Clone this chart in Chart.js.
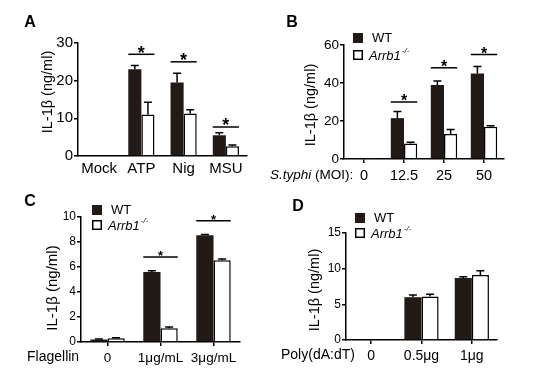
<!DOCTYPE html>
<html>
<head>
<meta charset="utf-8">
<script src="https://cdn.jsdelivr.net/npm/chart.js@4"></script>
<style>
  body { margin: 0; background: #fff; width: 536px; height: 387px; position: relative; overflow: hidden; }
  canvas { position: absolute; }
</style>
</head>
<body>
<canvas id="chartA" width="268" height="190" style="left:0;top:0"></canvas>
<canvas id="chartB" width="268" height="190" style="left:268px;top:0"></canvas>
<canvas id="chartC" width="268" height="197" style="left:0;top:190px"></canvas>
<canvas id="chartD" width="268" height="197" style="left:268px;top:190px"></canvas>
<script>
const FONT = "Arial, 'Liberation Sans', sans-serif";
const DARK = "#221a17";

// Panel A
const catsA = ["Mock", "ATP", "Nig", "MSU"];
const wtA = [0.2, 23, 19.5, 5.5];
const wtErrA = [0, 1, 2.5, 0.7];
const koA = [0.2, 11, 11.3, 2.6];
const koErrA = [0, 3.3, 1, 0.3];
const sigA = [null, 27, 25, 7.7];
const ticksA = [0, 10, 20, 30];

// Panel B
const catsB = ["0", "12.5", "25", "50"];
const wtB = [0.3, 21.5, 39, 45];
const wtErrB = [0, 3.5, 2, 3.7];
const koB = [0.2, 8.2, 13.2, 17];
const koErrB = [0, 0.6, 2.3, 0.5];
const sigB = [null, 30, 48, 55];
const ticksB = [0, 20, 40, 60];

// Panel C
const catsC = ["0", "1μg/mL", "3μg/mL"];
const wtC = [0.2, 5.6, 8.55];
const wtErrC = [0.05, 0.1, 0.05];
const koC = [0.3, 1.1, 6.55];
const koErrC = [0.05, 0.1, 0.1];
const sigC = [null, 6.8, 9.7];
const ticksC = [0, 2, 4, 6, 8, 10];

// Panel D
const catsD = ["0", "0.5μg", "1μg"];
const wtD = [0, 6.0, 8.7];
const wtErrD = [0, 0.3, 0.15];
const koD = [0, 6.1, 9.1];
const koErrD = [0, 0.3, 0.6];
const ticksD = [0, 5, 10, 15];

const errorBars = {
  id: "errorBars",
  afterDatasetsDraw(chart) {
    const { ctx } = chart;
    const yScale = chart.scales.y;
    ctx.save();
    ctx.strokeStyle = "#000";
    ctx.lineWidth = 1.5;
    chart.data.datasets.forEach((ds, i) => {
      chart.getDatasetMeta(i).data.forEach((bar, j) => {
        const e = ds.err[j];
        if (!e) return;
        const top = yScale.getPixelForValue(ds.data[j] + e);
        ctx.beginPath();
        ctx.moveTo(bar.x, bar.y);
        ctx.lineTo(bar.x, top);
        ctx.moveTo(bar.x - 4, top);
        ctx.lineTo(bar.x + 4, top);
        ctx.stroke();
      });
    });
    ctx.restore();
  },
};

function sigMarks(levels, starSize) {
  return {
    id: "sigMarks",
    afterDatasetsDraw(chart) {
      if (!levels) return;
      const { ctx } = chart;
      const yScale = chart.scales.y;
      const m0 = chart.getDatasetMeta(0).data;
      const m1 = chart.getDatasetMeta(1).data;
      ctx.save();
      ctx.strokeStyle = "#000";
      ctx.fillStyle = "#000";
      ctx.lineWidth = 1.5;
      levels.forEach((lv, j) => {
        if (lv == null) return;
        const y = yScale.getPixelForValue(lv);
        const x1 = m0[j].x - m0[j].width / 2;
        const x2 = m1[j].x + m1[j].width / 2;
        ctx.beginPath();
        ctx.moveTo(x1, y);
        ctx.lineTo(x2, y);
        ctx.stroke();
        ctx.font = "bold " + starSize + "px " + FONT;
        ctx.textAlign = "center";
        ctx.textBaseline = "alphabetic";
        ctx.fillText("*", (x1 + x2) / 2, y + starSize * 0.25);
      });
      ctx.restore();
    },
  };
}

function decor(p) {
  return {
    id: "decor",
    afterDraw(chart) {
      const { ctx } = chart;
      ctx.save();
      ctx.fillStyle = "#000";
      // panel letter
      ctx.font = "bold 16px " + FONT;
      ctx.textAlign = "center";
      ctx.textBaseline = "middle";
      ctx.fillText(p.letter, p.letterX, p.letterY);
      // y title
      ctx.save();
      ctx.translate(p.yTitleX, p.yTitleY);
      ctx.rotate(-Math.PI / 2);
      ctx.font = p.yTitleSize + "px " + FONT;
      ctx.fillText("IL-1β (ng/ml)", 0, 0);
      ctx.restore();
      // x title
      if (p.xTitle) {
        ctx.textAlign = "left";
        let x = p.xTitleX;
        p.xTitle.forEach((part) => {
          ctx.font = (part.italic ? "italic " : "") + p.xTitleSize + "px " + FONT;
          ctx.fillText(part.text, x, p.xTitleY);
          x += ctx.measureText(part.text).width;
        });
      }
      // legend
      if (p.legend) {
        const L = p.legend;
        ctx.fillStyle = DARK;
        ctx.fillRect(L.x, L.y1, 10, 10);
        ctx.strokeStyle = "#000";
        ctx.lineWidth = 1.5;
        ctx.fillStyle = "#fff";
        ctx.fillRect(L.x, L.y2, 10, 10);
        ctx.strokeRect(L.x + 0.75, L.y2 + 0.75, 8.5, 8.5);
        ctx.fillStyle = "#000";
        ctx.textAlign = "left";
        ctx.font = "13px " + FONT;
        ctx.fillText("WT", L.x + 19, L.y1 + 5);
        ctx.font = "italic 13px " + FONT;
        ctx.fillText("Arrb1", L.x + 16, L.y2 + 6);
        const w = ctx.measureText("Arrb1").width;
        ctx.font = "italic 8px " + FONT;
        ctx.fillText("-/-", L.x + 17 + w, L.y2 + 1);
      }
      ctx.restore();
    },
  };
}

function makePanel(id, cats, wt, wtErr, ko, koErr, ticks, sig, p) {
  const canvas = document.getElementById(id);
  const W = canvas.width, H = canvas.height;
  return new Chart(canvas.getContext("2d"), {
    type: "bar",
    data: {
      labels: cats,
      datasets: [
        { label: "WT", data: wt, err: wtErr, backgroundColor: DARK, borderWidth: 0 },
        { label: "Arrb1-/-", data: ko, err: koErr, backgroundColor: "#fff", borderColor: "#000", borderWidth: 1.5 },
      ],
    },
    options: {
      responsive: false,
      animation: false,
      devicePixelRatio: 1,
      datasets: { bar: { categoryPercentage: p.catPct, barPercentage: 1 } },
      layout: { padding: { left: 0, top: p.top, right: W - p.right, bottom: 0 } },
      scales: {
        x: {
          afterFit: (s) => { s.height = H - p.bottom; },
          grid: { display: true, offset: false, drawOnChartArea: false, drawTicks: p.xTicks, tickLength: 4, color: "#000", lineWidth: 1.5 },
          border: { display: true, color: "#000", width: 1.5 },
          ticks: { color: "#000", padding: p.xPad, maxRotation: 0, autoSkip: false, font: { family: FONT, size: p.xSize } },
        },
        y: {
          min: ticks[0],
          max: ticks[ticks.length - 1],
          afterFit: (s) => { s.width = p.left; },
          afterBuildTicks: (s) => { s.ticks = ticks.map((v) => ({ value: v })); },
          grid: { display: true, drawOnChartArea: false, drawTicks: true, tickLength: 4, color: "#000", lineWidth: 1.5 },
          border: { display: true, color: "#000", width: 1.5 },
          ticks: { color: "#000", padding: 1, font: { family: FONT, size: p.ySize } },
        },
      },
      plugins: { legend: { display: false }, tooltip: { enabled: false } },
    },
    plugins: [errorBars, sigMarks(sig, p.starSize), decor(p)],
  });
}

makePanel("chartA", catsA, wtA, wtErrA, koA, koErrA, ticksA, sigA, {
  left: 78, right: 247, top: 43, bottom: 156, catPct: 0.62,
  xTicks: false, xPad: 4, xSize: 15, ySize: 15, starSize: 18,
  letter: "A", letterX: 30, letterY: 23,
  yTitleX: 48, yTitleY: 92, yTitleSize: 14.5,
});

makePanel("chartB", catsB, wtB, wtErrB, koB, koErrB, ticksB, sigB, {
  left: 76, right: 236, top: 45, bottom: 159, catPct: 0.66,
  xTicks: true, xPad: 4, xSize: 14.5, ySize: 13.5, starSize: 16,
  letter: "B", letterX: 24, letterY: 23,
  yTitleX: 43, yTitleY: 105, yTitleSize: 14.5,
  xTitle: [{ text: "S.typhi", italic: true }, { text: " (MOI):", italic: false }],
  xTitleX: 2, xTitleY: 175, xTitleSize: 13.5,
  legend: { x: 85, y1: 33, y2: 50 },
});

makePanel("chartC", catsC, wtC, wtErrC, koC, koErrC, ticksC, sigC, {
  left: 81, right: 240, top: 27, bottom: 152, catPct: 0.65,
  xTicks: true, xPad: 4, xSize: 13.5, ySize: 12, starSize: 13,
  letter: "C", letterX: 30, letterY: 12,
  yTitleX: 53, yTitleY: 98, yTitleSize: 15,
  xTitle: [{ text: "Flagellin", italic: false }],
  xTitleX: 27, xTitleY: 167, xTitleSize: 14,
  legend: { x: 92, y1: 15, y2: 30 },
});

makePanel("chartD", catsD, wtD, wtErrD, koD, koErrD, ticksD, null, {
  left: 78, right: 229, top: 43, bottom: 150, catPct: 0.68,
  xTicks: true, xPad: 4, xSize: 14, ySize: 12, starSize: 13,
  letter: "D", letterX: 30, letterY: 17,
  yTitleX: 47, yTitleY: 100, yTitleSize: 14.5,
  xTitle: [{ text: "Poly(dA:dT)", italic: false }],
  xTitleX: 13, xTitleY: 165, xTitleSize: 14,
  legend: { x: 87, y1: 23, y2: 38 },
});
</script>
</body>
</html>
